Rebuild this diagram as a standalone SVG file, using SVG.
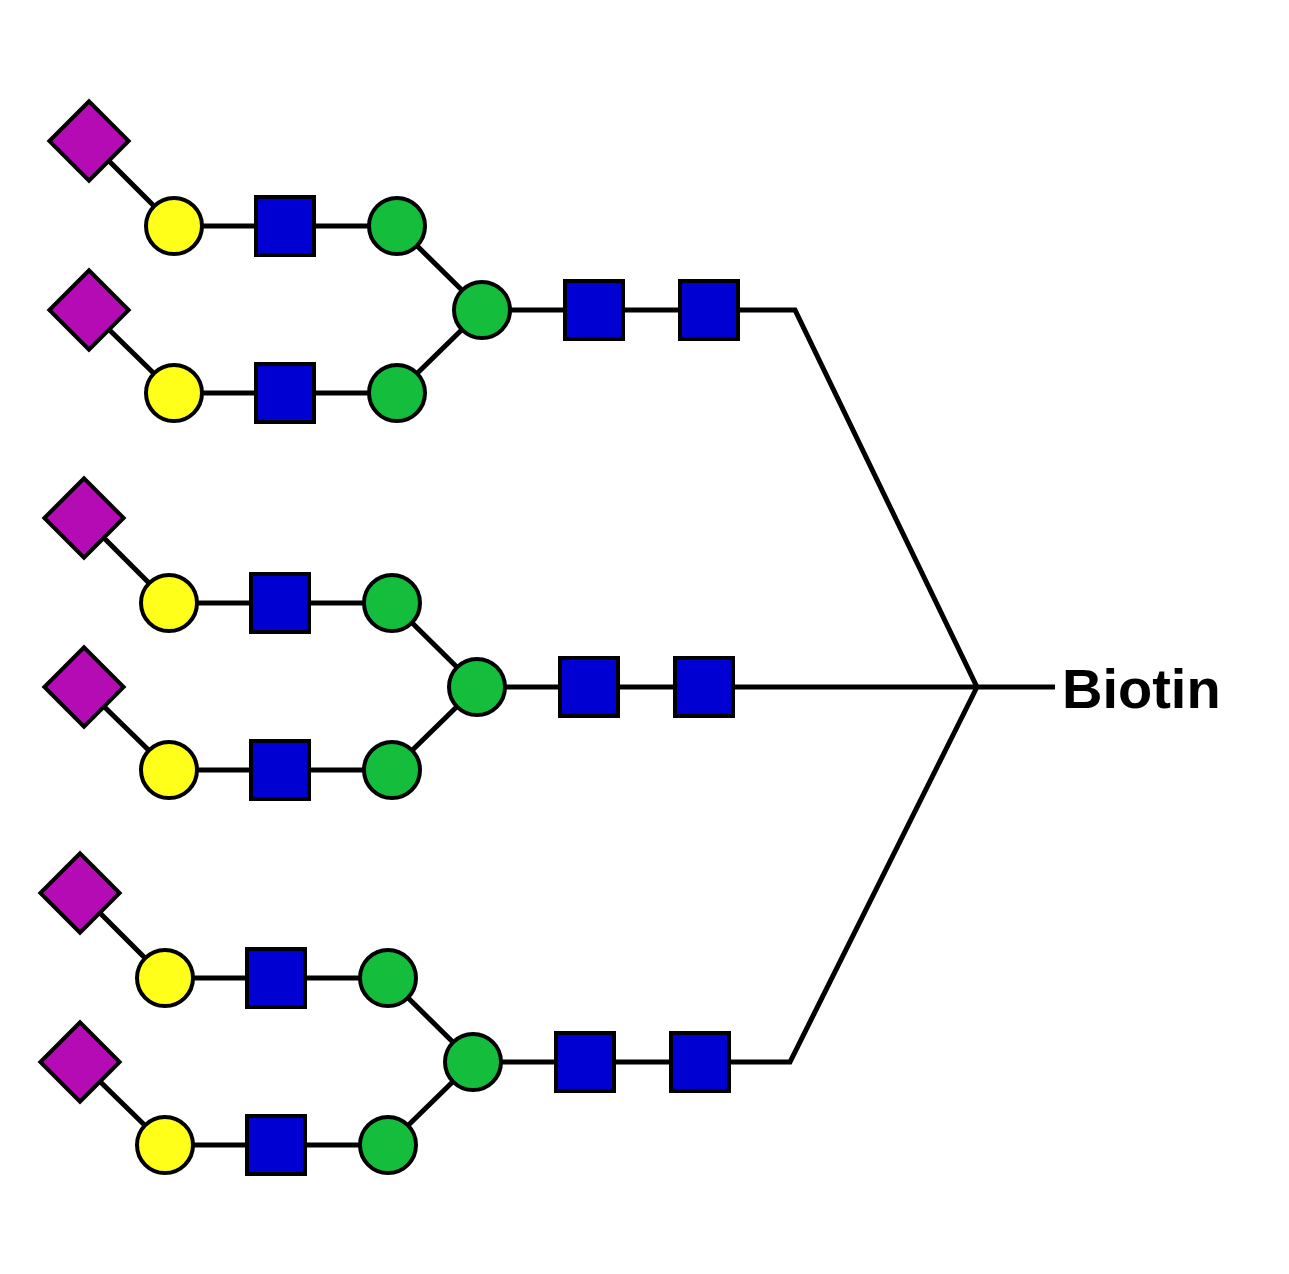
<svg xmlns="http://www.w3.org/2000/svg" width="1289" height="1274" viewBox="0 0 1289 1274">
<defs><style>
.l{stroke:#000;stroke-width:5;fill:none}
.s{stroke:#000;stroke-width:4}
.d{fill:#b40bb4}.y{fill:#ffff1a}.b{fill:#0000d2}.g{fill:#14be3c}
</style>
<g id="ant">
<path class="l" d="M89,141 L174,226 L397,226 L482,310 L397,393 L174,393 L89,310 M482,310 L709,310"/>
<rect class="s d" x="61" y="113" width="56" height="56" transform="rotate(45 89 141)"/>
<rect class="s d" x="61" y="282" width="56" height="56" transform="rotate(45 89 310)"/>
<circle class="s y" cx="174" cy="226" r="28"/><circle class="s y" cx="174" cy="393" r="28"/>
<rect class="s b" x="256" y="197" width="58" height="58"/><rect class="s b" x="256" y="364" width="58" height="58"/>
<circle class="s g" cx="397" cy="226" r="28"/><circle class="s g" cx="397" cy="393" r="28"/>
<circle class="s g" cx="482" cy="310" r="28"/>
<rect class="s b" x="565" y="281" width="58" height="58"/><rect class="s b" x="680" y="281" width="58" height="58"/>
</g></defs>
<rect width="1289" height="1274" fill="#fff"/>
<g id="connectors">
<path class="l" d="M738,310 L795,310 L977,687 L1055,687 M733,687 L977,687 M729,1062 L790,1062 L977,687"/>
</g>
<g id="glycan1"><use href="#ant"/></g>
<g id="glycan2"><use href="#ant" transform="translate(-5,377)"/></g>
<g id="glycan3"><use href="#ant" transform="translate(-9,752)"/></g>
<g id="biotin"><text x="1062" y="708" font-family="Liberation Sans, Arial, sans-serif" font-weight="bold" font-size="56">Biotin</text></g>
</svg>
